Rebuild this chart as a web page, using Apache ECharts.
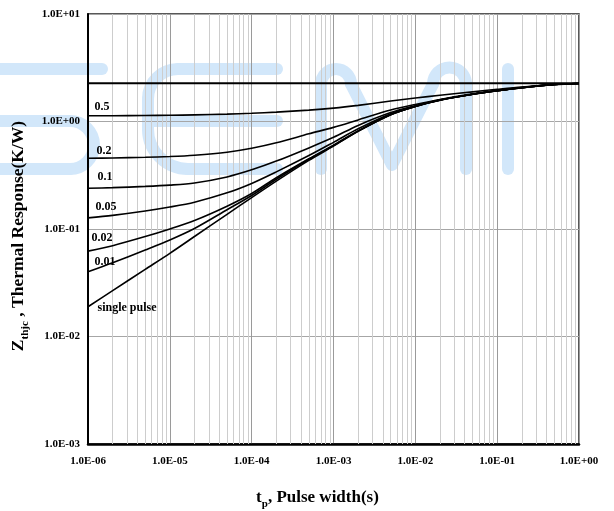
<!DOCTYPE html>
<html>
<head>
<meta charset="utf-8">
<script src="https://cdn.jsdelivr.net/npm/echarts@6.0.0/dist/echarts.min.js"></script>
<style>
  html, body { margin: 0; padding: 0; background: #fff; }
  #chart { width: 614px; height: 511px; }
</style>
</head>
<body>
<div id="chart"></div>
<script>
// pulse width (s), shared by all curves
const pulseWidth = [1e-6, 2e-6, 5e-6, 1e-5, 2e-5, 5e-5, 1e-4, 2e-4, 5e-4, 1e-3, 2e-3, 5e-3, 1e-2, 2e-2, 5e-2, 1e-1, 2e-1, 5e-1, 1];

// Zthjc (K/W), one array per duty cycle
const duty05 = [1.13, 1.132, 1.138, 1.143, 1.153, 1.172, 1.193, 1.223, 1.276, 1.332, 1.413, 1.549, 1.654, 1.754, 1.888, 1.993, 2.095, 2.203, 2.26];
const duty02 = [0.455, 0.458, 0.4645, 0.4725, 0.486, 0.518, 0.563, 0.633, 0.768, 0.882, 1.035, 1.277, 1.44, 1.604, 1.81, 1.945, 2.075, 2.22, 2.26];
const duty01 = [0.239, 0.2424, 0.249, 0.256, 0.268, 0.305, 0.355, 0.428, 0.568, 0.713, 0.92, 1.21, 1.40, 1.59, 1.795, 1.935, 2.065, 2.215, 2.26];
const duty005 = [0.127, 0.134, 0.147, 0.160, 0.1775, 0.217, 0.2655, 0.34, 0.482, 0.64, 0.855, 1.18, 1.39, 1.585, 1.792, 1.932, 2.062, 2.21, 2.26];
const duty002 = [0.0623, 0.070, 0.085, 0.100, 0.120, 0.163, 0.214, 0.30, 0.45, 0.603, 0.818, 1.16, 1.383, 1.582, 1.791, 1.931, 2.061, 2.21, 2.26];
const duty001 = [0.040, 0.0486, 0.0638, 0.079, 0.101, 0.151, 0.205, 0.29, 0.445, 0.598, 0.815, 1.158, 1.382, 1.581, 1.79, 1.93, 2.06, 2.21, 2.26];
const singlePulse = [0.0189, 0.0267, 0.0421, 0.0594, 0.0851, 0.137, 0.196, 0.279, 0.435, 0.59, 0.81, 1.155, 1.38, 1.58, 1.79, 1.93, 2.06, 2.21, 2.26];

// steady state line
const rthX = [1e-6, 1];
const rthY = [2.27, 2.27];

const curveNames = ['0.5', '0.2', '0.1', '0.05', '0.02', '0.01', 'single pulse'];
const curveValues = [duty05, duty02, duty01, duty005, duty002, duty001, singlePulse];

const xTickLabels = ['1.0E-06', '1.0E-05', '1.0E-04', '1.0E-03', '1.0E-02', '1.0E-01', '1.0E+00'];
const yTickLabels = ['1.0E-03', '1.0E-02', '1.0E-01', '1.0E+00', '1.0E+01'];
const yMin = 0.001;
const yMax = 10;

const serif = '"Liberation Serif", "Times New Roman", serif';

// where the curve names sit (pixels)
const labelPos = [[102, 107], [104, 151], [105, 177], [106, 207], [102, 238], [105, 262], [127, 308]];

// minor vertical grid at 2..9 of each decade
const minorX = [];
for (let e = -6; e < 0; e++) {
  for (let m = 2; m <= 9; m++) minorX.push(m * Math.pow(10, e));
}

// light blue "SEMI" watermark behind the plot
const wmStyle = { fill: null, stroke: '#d2e7fa', lineWidth: 12, lineCap: 'round', lineJoin: 'round' };
const PI = Math.PI;
function wLine(x1, y1, x2, y2) {
  return { type: 'line', shape: { x1, y1, x2, y2 }, style: wmStyle, z: -10, silent: true };
}
function wArc(cx, cy, r, startAngle, endAngle, clockwise) {
  return { type: 'arc', shape: { cx, cy, r, startAngle, endAngle, clockwise }, style: wmStyle, z: -10, silent: true };
}
const watermark = [
  // S
  wLine(-30, 69, 102, 69), wLine(-30, 121, 70, 121), wArc(70, 145, 24, -PI / 2, PI / 2, true), wLine(70, 169, -30, 169),
  // E
  wLine(178, 69, 277, 69), wArc(178, 99, 30, -PI / 2, -PI, false), wLine(148, 99, 148, 129),
  wArc(188, 129, 40, PI, PI / 2, false), wLine(188, 169, 277, 169), wLine(148, 121, 277, 121),
  // M
  wLine(321, 169, 321, 84), wArc(336, 84, 15, PI, 2 * PI, true),
  { type: 'polyline', shape: { points: [[351, 84], [392, 165], [433, 84]] }, style: wmStyle, z: -10, silent: true },
  wArc(449.5, 84, 16.5, PI, 2 * PI, true), wLine(466, 84, 466, 169),
  // I
  wLine(508, 69, 508, 169)
];

const curveLabels = curveNames.map((n, i) => ({
  type: 'text', x: labelPos[i][0], y: labelPos[i][1], z: 10, silent: true,
  style: { text: n, font: 'bold 12px ' + serif, fill: '#000', align: 'center', verticalAlign: 'middle' }
}));

const chart = echarts.init(document.getElementById('chart'));

const series = [{
  type: 'lines',
  name: 'minor grid',
  coordinateSystem: 'cartesian2d',
  silent: true,
  z: 1,
  lineStyle: { color: '#cdcdcd', width: 1, opacity: 1 },
  data: minorX.map(x => ({ coords: [[x, yMin], [x, yMax]] }))
}];

curveNames.forEach((n, i) => series.push({
  type: 'line',
  name: n,
  data: pulseWidth.map((t, j) => [t, curveValues[i][j]]),
  smooth: 0.3,
  showSymbol: false,
  silent: true,
  z: 3,
  lineStyle: { color: '#000', width: 1.6 }
}));

series.push({
  type: 'line',
  name: 'Rth',
  data: rthX.map((t, j) => [t, rthY[j]]),
  showSymbol: false,
  silent: true,
  z: 3,
  lineStyle: { color: '#000', width: 2 }
});

function titleRich(size) {
  return {
    b: { fontFamily: serif, fontWeight: 'bold', fontSize: size, lineHeight: 24, verticalAlign: 'middle', color: '#000' },
    s: { fontFamily: serif, fontWeight: 'bold', fontSize: 11, lineHeight: 11, verticalAlign: 'bottom', color: '#000' }
  };
}

chart.setOption({
  animation: false,
  backgroundColor: '#fff',
  grid: {
    left: 88, top: 14, right: 35, bottom: 67,
    containLabel: false, outerBoundsMode: 'none',
    show: true, borderColor: '#222', borderWidth: 1.5
  },
  xAxis: {
    type: 'log',
    min: 1e-6,
    max: 1,
    interval: 1,
    name: '{b|t}{s|p}{b|, Pulse width(s)}',
    nameLocation: 'middle',
    nameGap: 42,
    nameTextStyle: { rich: titleRich(17), padding: [0, 32, 0, 0] },
    axisLine: { lineStyle: { color: '#000', width: 2.5 } },
    axisTick: { show: false },
    axisLabel: {
      margin: 12,
      fontFamily: serif, fontWeight: 'bold', fontSize: 11, color: '#000',
      formatter: v => xTickLabels[Math.round(Math.log10(v)) + 6]
    },
    splitLine: { show: true, lineStyle: { color: '#9a9a9a', width: 1 } }
  },
  yAxis: {
    type: 'log',
    min: yMin,
    max: yMax,
    interval: 1,
    name: '{b|Z}{s|thjc}{b| , Thermal Response(K/W)}',
    nameLocation: 'middle',
    nameGap: 51,
    nameTextStyle: { rich: titleRich(17.5), padding: [0, 14, 0, 0] },
    axisLine: { show: true, lineStyle: { color: '#000', width: 2 } },
    axisTick: { show: false },
    axisLabel: {
      margin: 8,
      fontFamily: serif, fontWeight: 'bold', fontSize: 11, color: '#000',
      formatter: v => yTickLabels[Math.round(Math.log10(v)) + 3]
    },
    splitLine: { show: true, lineStyle: { color: '#a6a6a6', width: 1 } }
  },
  graphic: watermark.concat(curveLabels),
  series: series
});
</script>
</body>
</html>
